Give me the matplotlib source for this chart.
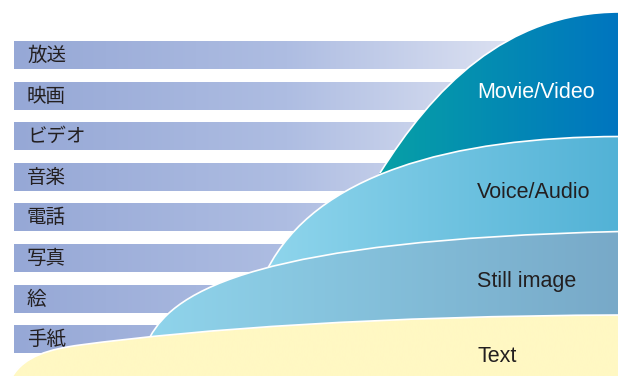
import numpy as np
import matplotlib
matplotlib.use("Agg")
import matplotlib.pyplot as plt
from matplotlib.path import Path
from matplotlib.patches import PathPatch
from matplotlib.colors import LinearSegmentedColormap

# media list (left side bars)
media = ['放送', '映画', 'ビデオ', '音楽', '電話', '写真', '絵', '手紙']

# layer names, back to front
layers = ['Movie/Video', 'Voice/Audio', 'Still image', 'Text']

# top edge of each layer in pixel space (y down):
# hidden start point, visible start, then cubic bezier control points in threes
movie_edge = [(290, 300), (380, 173), (432, 90), (505, 12), (620, 12)]
voice_edge = [(237, 330), (267, 270), (315, 175), (450, 137), (620, 136.5)]
still_edge = [(131, 372), (150, 337), (175, 290), (260, 240), (620, 231.5)]
text_edge = [(10, 380), (12, 377), (24, 356), (50, 349), (80, 345),
             (200, 329), (380, 316), (620, 315)]

edges = [movie_edge, voice_edge, still_edge, text_edge]
colors = [('#07a0a6', '#0075c0'), ('#8fd5ec', '#52b2d6'),
          ('#8fd4eb', '#78a9c8'), ('#fff8c3', '#fff8c3')]
label_colors = ['white', '#231f20', '#231f20', '#231f20']
label_y = [98, 198, 287, 362]
grad_start = [380, 267, 150, 12]

W, H = 618, 376


def edge_paths(pts, bottom):
    p = [tuple(v) for v in pts]
    codes = [Path.MOVETO, Path.LINETO] + [Path.CURVE4] * (len(p) - 2)
    line = Path(p[1:], [Path.MOVETO] + codes[2:])
    verts = p + [(p[-1][0], bottom), (p[0][0], bottom), p[0]]
    codes = codes + [Path.LINETO, Path.LINETO, Path.CLOSEPOLY]
    return Path(verts, codes), line


fig = plt.figure(figsize=(6.18, 3.76), dpi=100)
ax = fig.add_axes([0, 0, 1, 1])
ax.axis('off')

# gradient bars
bar_cmap = LinearSegmentedColormap.from_list('bar', ['#96a8d6', '#aebde2', '#e6e9f5'])
grad = np.linspace(0, 1, 256).reshape(1, -1)
for i, name in enumerate(media):
    top = 41.5 + i * 40.6
    ax.imshow(grad, cmap=bar_cmap, extent=[14, 560, top + 27.5, top],
              aspect='auto', zorder=1, interpolation='bicubic')
    ax.text(27, top + 14, name, fontsize=14, color='#231f20', va='center',
            family=['Noto Sans CJK JP', 'DejaVu Sans'], zorder=10)

# layered shapes
for k, (name, pts) in enumerate(zip(layers, edges)):
    path, line = edge_paths(pts, H + 4)
    patch = PathPatch(path, facecolor='none', edgecolor='none', zorder=2 + k)
    ax.add_patch(patch)
    cmap = LinearSegmentedColormap.from_list(name, list(colors[k]))
    im = ax.imshow(grad, cmap=cmap, extent=[grad_start[k], W + 2, H + 4, 0],
                   aspect='auto', zorder=2 + k, interpolation='bicubic')
    im.set_clip_path(patch)
    # hidden part left of the gradient start keeps the first colour
    im2 = ax.imshow(np.zeros((1, 1)), cmap=cmap, vmin=0, vmax=1,
                    extent=[0, grad_start[k], H + 4, 0], aspect='auto', zorder=2 + k)
    im2.set_clip_path(patch)
    ax.add_patch(PathPatch(line, facecolor='none', edgecolor='white', lw=1.2,
                           zorder=2 + k + 0.5))
    ax.text(477, label_y[k], name, fontsize=15.5, color=label_colors[k],
            family='Liberation Sans', va='baseline', zorder=10)

ax.set_xlim(0, W)
ax.set_ylim(H, 0)
fig.savefig('out.png', dpi=100)
